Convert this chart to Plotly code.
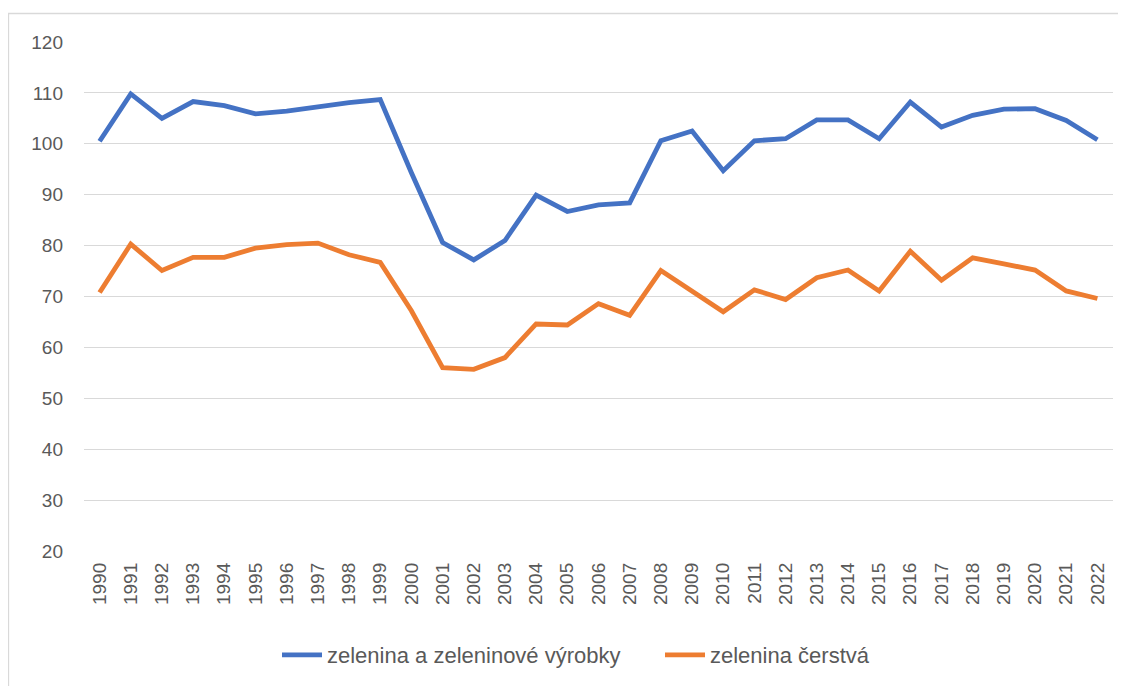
import plotly.graph_objects as go

years = [str(y) for y in range(1990, 2023)]
zelenina_vyrobky = [100.5, 109.8, 105.0, 108.3, 107.5, 105.9, 106.4, 107.3, 108.1, 108.7,
                    94.3, 80.6, 77.2, 81.0, 89.9, 86.7, 88.0, 88.4, 100.6, 102.5,
                    94.7, 100.6, 101.0, 104.7, 104.7, 101.0, 108.2, 103.3, 105.6, 106.8,
                    106.9, 104.6, 100.8]
zelenina_cerstva = [70.8, 80.3, 75.1, 77.7, 77.7, 79.5, 80.2, 80.5, 78.2, 76.7,
                    67.2, 56.0, 55.7, 58.0, 64.6, 64.4, 68.6, 66.3, 75.1, 71.1,
                    67.0, 71.3, 69.4, 73.7, 75.2, 71.1, 78.9, 73.2, 77.6, 76.4,
                    75.2, 71.1, 69.6]
series_names = ["zelenina a zeleninové výrobky", "zelenina čerstvá"]
y_ticks = [20, 30, 40, 50, 60, 70, 80, 90, 100, 110, 120]

FONT = "Liberation Sans"
W, H = 1126, 686
ML, MR, MT, MB = 76, 21, 34, 143
PW, PH = W - ML - MR, H - MT - MB

fig = go.Figure()
fig.add_trace(go.Scatter(x=years, y=zelenina_vyrobky, mode="lines", name=series_names[0],
                         line=dict(color="#4472C4", width=4.8, shape="linear")))
fig.add_trace(go.Scatter(x=years, y=zelenina_cerstva, mode="lines", name=series_names[1],
                         line=dict(color="#ED7D31", width=4.8, shape="linear")))

fig.update_layout(
    width=W, height=H,
    margin=dict(l=ML, r=MR, t=MT, b=MB),
    paper_bgcolor="white", plot_bgcolor="white",
    font=dict(family=FONT, size=19, color="#595959"),
    showlegend=True,
    legend=dict(orientation="h", x=(277 - 8 - ML) / PW, xanchor="left", y=-104 / PH,
                yanchor="middle",
                font=dict(family=FONT, size=22, color="#595959"),
                itemwidth=40, tracegroupgap=0, entrywidth=328, entrywidthmode="pixels"),
    xaxis=dict(type="category", range=[-0.5, 32.5], tickangle=-90, showgrid=False,
               showline=False, ticks="", ticklabelstandoff=7,
               tickfont=dict(family=FONT, size=19, color="#595959")),
    yaxis=dict(range=[20, 120], tickvals=y_ticks, showgrid=True, gridcolor="#d9d9d9",
               gridwidth=1.3, zeroline=False, showline=False, ticks="", ticklabelstandoff=20,
               tickfont=dict(family=FONT, size=19, color="#595959")),
    shapes=[dict(type="rect", xref="paper", yref="paper",
                 x0=(0.5 - ML) / PW, x1=(W - ML + 20) / PW,
                 y0=-(MB + 20) / PH, y1=1 + (MT - 5.5) / PH,
                 line=dict(color="#d9d9d9", width=1.3), layer="below")],
)

fig.write_html("out.html")
